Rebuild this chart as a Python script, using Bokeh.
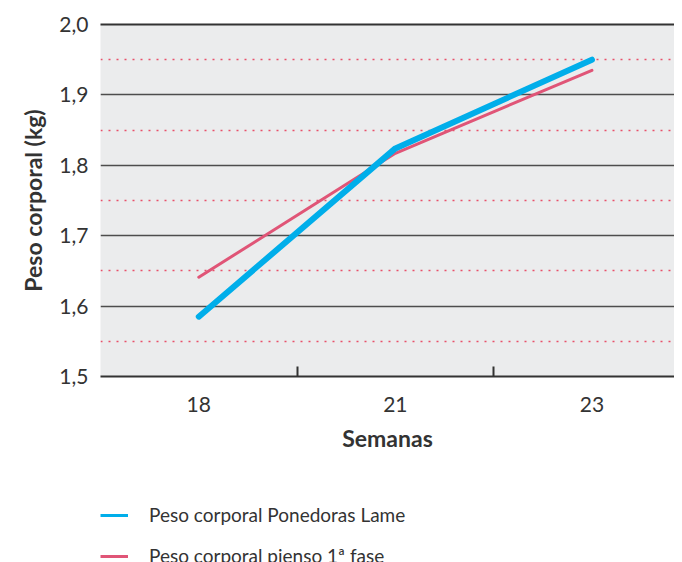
from bokeh.plotting import figure
from bokeh.layouts import column
from bokeh.models import (Range1d, FixedTicker, CustomJSTickFormatter, LinearAxis,
                          Legend, LegendItem, Grid)
from bokeh.embed import file_html
from bokeh.resources import INLINE

# ---- data ----
weeks = ["18", "21", "23"]
lame = [1.585, 1.824, 1.950]       # Peso corporal Ponedoras Lame
pienso = [1.641, 1.817, 1.935]     # Peso corporal pienso 1ª fase
y_ticks = [1.5, 1.6, 1.7, 1.8, 1.9, 2.0]
y_minor = [1.55, 1.65, 1.75, 1.85, 1.95]
series_names = ["Peso corporal Ponedoras Lame", "Peso corporal pienso 1ª fase"]
colors = ["#00aeea", "#e05577"]

pos = list(range(len(weeks)))
FONT = "Lato"
TXT = "#333333"

p = figure(frame_width=574, frame_height=352, output_backend="svg", toolbar_location=None,
           x_range=Range1d(-0.5, 2.42), y_range=Range1d(1.5, 2.0),
           x_axis_type=None, y_axis_type=None,
           min_border_left=100, min_border_top=24, min_border_right=0, min_border_bottom=90)
p.background_fill_color = "#ebeced"
p.border_fill_color = "white"
p.outline_line_color = None

# y axis
yax = LinearAxis(ticker=FixedTicker(ticks=y_ticks),
                 formatter=CustomJSTickFormatter(code="return tick.toFixed(1).replace('.', ',');"))
yax.axis_line_color = None
yax.major_tick_in = 0
yax.major_tick_out = 0
yax.minor_tick_in = 0
yax.minor_tick_out = 0
yax.major_label_standoff = 12
yax.major_label_text_font = FONT
yax.major_label_text_font_size = "21px"
yax.major_label_text_color = TXT
yax.axis_label = "Peso corporal (kg)"
yax.axis_label_text_font = FONT
yax.axis_label_text_font_style = "bold"
yax.axis_label_text_font_size = "23px"
yax.axis_label_text_color = TXT
yax.axis_label_standoff = 9
p.add_layout(yax, "left")

# x axis
xax = LinearAxis(ticker=FixedTicker(ticks=pos, minor_ticks=[i + 0.5 for i in pos[:-1]]),
                 formatter=CustomJSTickFormatter(args=dict(labels=weeks),
                                                 code="const i = Math.round(tick); return (i >= 0 && i < labels.length) ? labels[i] : '';"))
xax.axis_line_color = "#333333"
xax.axis_line_width = 2
xax.major_tick_in = 0
xax.major_tick_out = 0
xax.minor_tick_in = 10
xax.minor_tick_out = 0
xax.minor_tick_line_color = "#333333"
xax.minor_tick_line_width = 2
xax.major_label_standoff = 20
xax.major_label_text_font = FONT
xax.major_label_text_font_size = "21px"
xax.major_label_text_color = TXT
xax.axis_label = "Semanas"
xax.axis_label_text_font = FONT
xax.axis_label_text_font_style = "bold"
xax.axis_label_text_font_size = "23px"
xax.axis_label_text_color = TXT
xax.axis_label_standoff = 9
p.add_layout(xax, "below")

# top line
tax = LinearAxis(ticker=FixedTicker(ticks=[]))
tax.axis_line_color = "#333333"
tax.axis_line_width = 2
tax.major_tick_in = 0
tax.major_tick_out = 0
tax.minor_tick_in = 0
tax.minor_tick_out = 0
p.add_layout(tax, "above")

# grid
g = Grid(dimension=1, ticker=FixedTicker(ticks=y_ticks, minor_ticks=y_minor))
g.grid_line_color = "#4d4d4d"
g.grid_line_width = 1.5
g.minor_grid_line_color = "#e8506a"
g.minor_grid_line_width = 1.5
g.minor_grid_line_dash = "2 6"
p.add_layout(g)

# series (blue drawn on top)
p.line(pos, pienso, line_width=3, line_color=colors[1], line_cap="round")
p.line(pos, lame, line_width=6, line_color=colors[0], line_cap="round")

# ---- legend figure (series drawn out of view; only their legend keys show) ----
q = figure(frame_width=574, frame_height=59, output_backend="svg", toolbar_location=None,
           x_axis_type=None, y_axis_type=None,
           min_border_left=100, min_border_top=37, min_border_right=0, min_border_bottom=0,
           x_range=Range1d(-0.5, 2.42), y_range=Range1d(0, 1))
q.outline_line_color = None
q.xgrid.visible = False
q.ygrid.visible = False
l1 = q.line(pos, lame, line_width=3, line_color=colors[0])
l2 = q.line(pos, pienso, line_width=3, line_color=colors[1])
legend = Legend(items=[LegendItem(label=series_names[0], renderers=[l1]),
                       LegendItem(label=series_names[1], renderers=[l2])],
                location="top_left", orientation="vertical")
legend.border_line_color = None
legend.background_fill_alpha = 0
legend.label_text_font = FONT
legend.label_text_font_size = "19px"
legend.label_text_color = TXT
legend.glyph_width = 28
legend.glyph_height = 20
legend.label_height = 20
legend.label_standoff = 21
legend.spacing = 18
legend.padding = 0
legend.margin = 0
q.add_layout(legend)

open("out.html", "w").write(file_html(column(p, q, spacing=0), INLINE))
